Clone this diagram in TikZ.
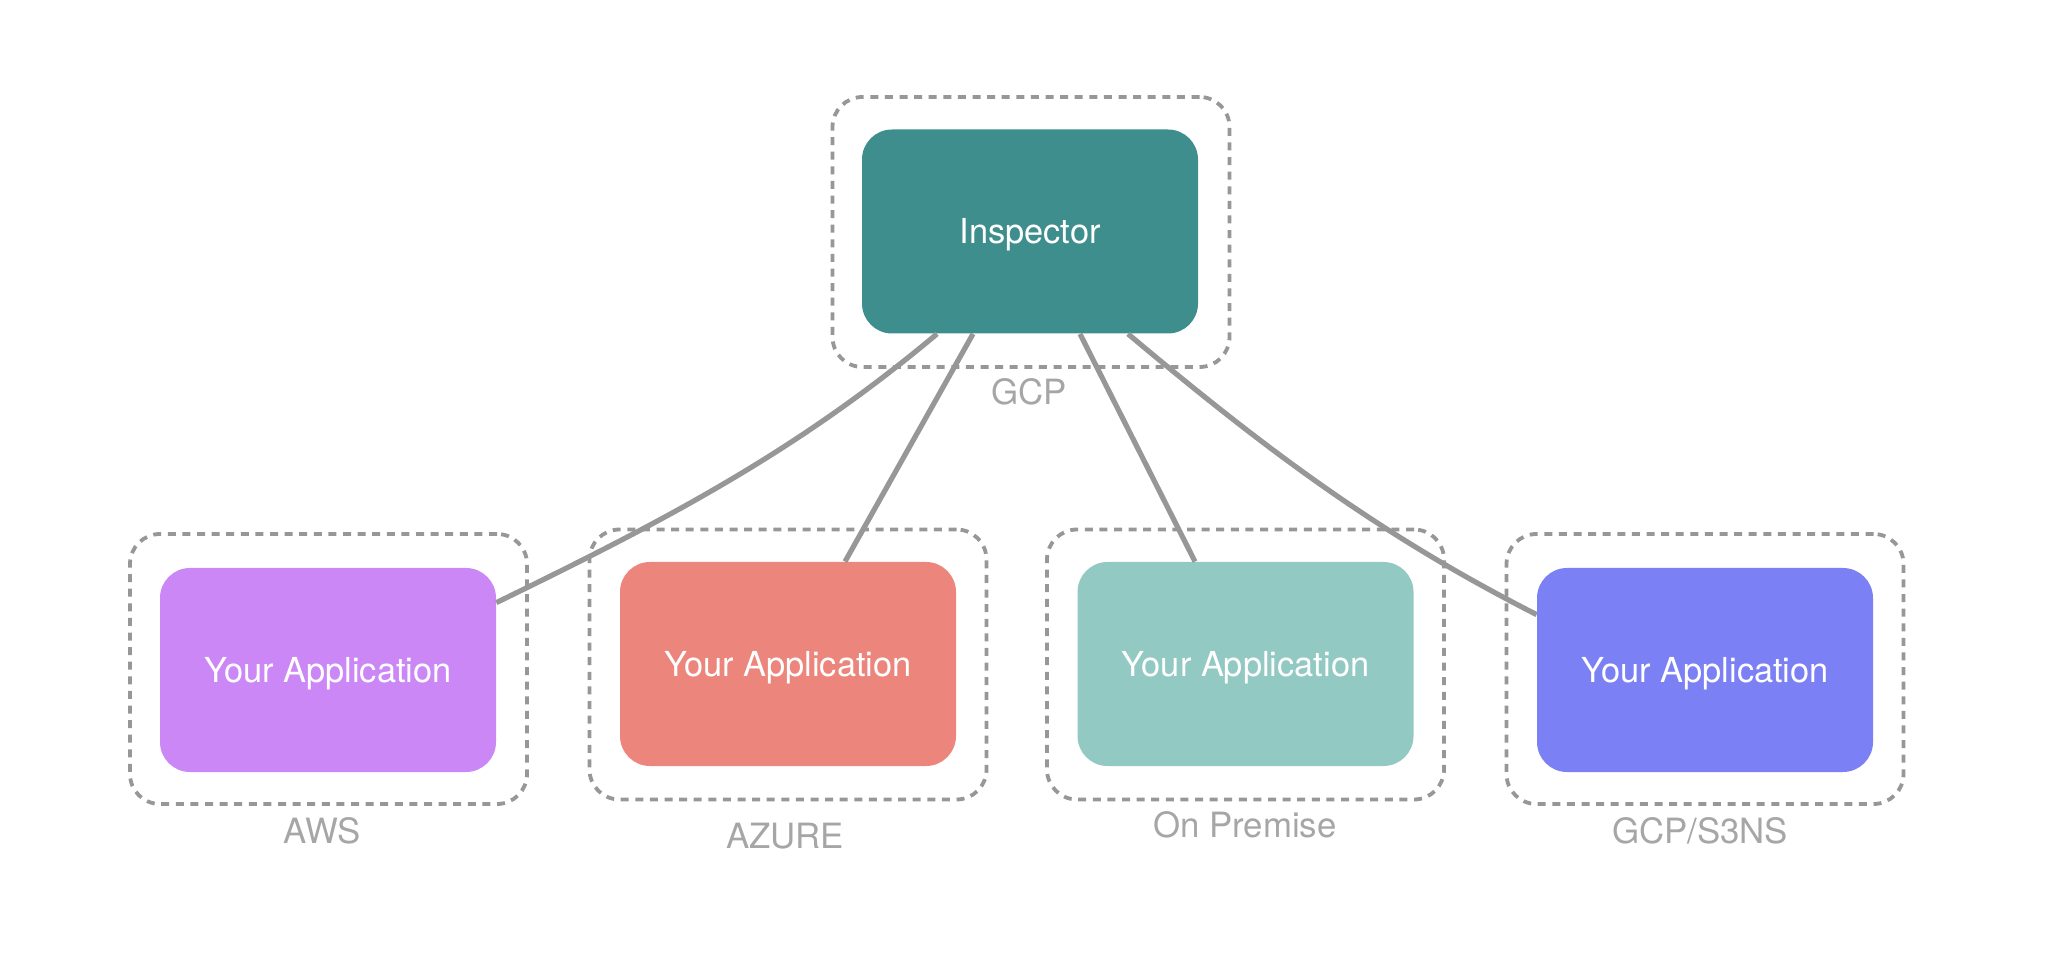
\documentclass[tikz,border=0pt]{standalone}
\usepackage{fontspec}
\setmainfont{TeX Gyre Heros}
\usetikzlibrary{calc}
\definecolor{insp}{HTML}{3F8E8E}
\definecolor{awsc}{HTML}{CB87F5}
\definecolor{azurec}{HTML}{EC857B}
\definecolor{premc}{HTML}{93C9C3}
\definecolor{s3nsc}{HTML}{7B80F4}
\definecolor{linec}{HTML}{979797}
\definecolor{labelc}{HTML}{A6A6A6}
\tikzset{
  appbox/.style={rectangle, rounded corners=15pt, minimum width=168pt, minimum height=102pt,
    inner sep=0pt, text=white, font=\fontsize{17.2}{20}\selectfont, text height=12.5pt, text depth=0pt},
  groupbox/.style={rectangle, rounded corners=15pt, draw=linec, line width=1.9pt,
    dash pattern=on 4pt off 3.3pt, minimum width=198.5pt, minimum height=135pt, inner sep=0pt},
  grouplabel/.style={anchor=base, text=labelc, font=\fontsize{17.4}{20}\selectfont, inner sep=0pt},
  conn/.style={draw=linec, line width=2.6pt}
}
\begin{document}
\begin{tikzpicture}[x=0.5pt, y=-0.5pt]
\useasboundingbox (0,0) rectangle (2062,956);
% group frames
\node[groupbox] (gcpg) at (1031,232) {};
\node[groupbox] (awsg) at (328.5,669) {};
\node[groupbox] (azureg) at (788,664.5) {};
\node[groupbox] (premg) at (1245.5,664.5) {};
\node[groupbox] (s3nsg) at (1705,669) {};
% group labels
\node[grouplabel] (gcpl) at (1029,405) {GCP};
\node[grouplabel] (awsl) at (322,843) {AWS};
\node[grouplabel] (azurel) at (785,848) {AZURE};
\node[grouplabel] (preml) at (1245,837) {On Premise};
\node[grouplabel] (s3nsl) at (1700,843) {GCP/S3NS};
% boxes
\node[appbox, fill=insp] (insp) at (1030,231.5) {Inspector};
\node[appbox, fill=awsc] (aws) at (328,670) {Your Application};
\node[appbox, fill=azurec] (azure) at (788,664) {Your Application};
\node[appbox, fill=premc] (prem) at (1245.5,664) {Your Application};
\node[appbox, fill=s3nsc] (s3ns) at (1705,670) {Your Application};
% connectors
\draw[conn] ($(insp.south)+(-93,0)$) to[out=220, in=26, looseness=0.92] ($(aws.north east)+(0,35)$);
\draw[conn] ($(insp.south)+(-57,0)$) -- ($(azure.north)+(57,0)$);
\draw[conn] ($(insp.south)+(50,0)$) -- ($(prem.north)+(-50.5,0)$);
\draw[conn] ($(insp.south)+(98,0)$) to[out=320, in=153, looseness=0.92] ($(s3ns.north west)+(0,47)$);
\end{tikzpicture}
\end{document}
